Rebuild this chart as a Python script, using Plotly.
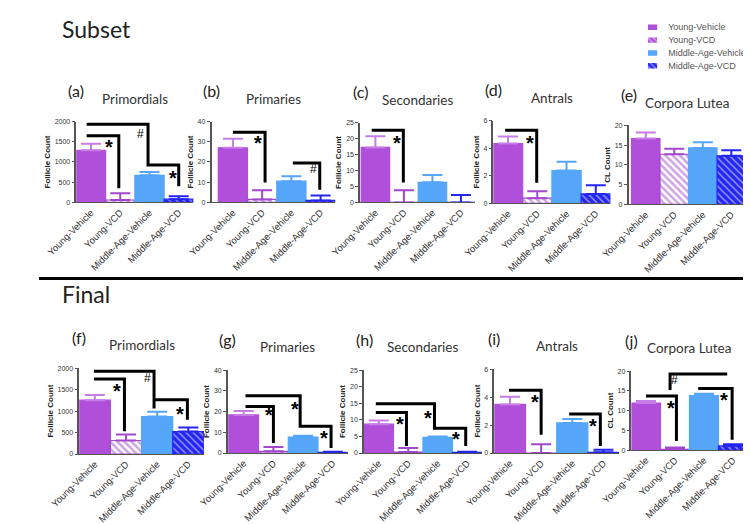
import plotly.graph_objects as go

W, H = 751, 524

categories = ["Young-Vehicle", "Young-VCD", "Middle-Age-Vehicle", "Middle-Age-VCD"]

# ---- Subset (mean, upper error) ----
subset_primordials = [1290, 60, 670, 80]
subset_primordials_err = [160, 165, 80, 70]
subset_primaries = [27.0, 1.5, 10.5, 1.0]
subset_primaries_err = [4.5, 4.5, 2.5, 2.4]
subset_secondaries = [17.2, 0.0, 6.3, 0.0]
subset_secondaries_err = [3.5, 3.8, 2.3, 2.3]
subset_antrals = [4.33, 0.38, 2.38, 0.69]
subset_antrals_err = [0.52, 0.5, 0.64, 0.62]
subset_cl = [16.7, 12.7, 14.3, 12.3]
subset_cl_err = [1.5, 1.4, 1.45, 1.4]

# ---- Final ----
final_primordials = [1255, 315, 872, 525]
final_primordials_err = [118, 138, 115, 95]
final_primaries = [18.4, 0.8, 7.7, 0.3]
final_primaries_err = [1.9, 2.1, 0.6, 0.3]
final_secondaries = [8.7, 0.3, 4.7, 0.2]
final_secondaries_err = [1.1, 1.2, 0.3, 0.2]
final_antrals = [3.48, 0.0, 2.15, 0.05]
final_antrals_err = [0.54, 0.63, 0.28, 0.18]
final_cl = [11.9, 0.2, 13.8, 1.08]
final_cl_err = [0.55, 0.46, 0.5, 0.42]

# ---- significance brackets (category index, value) and marks ----
br_a = [[(-0.15, 1650), (0.95, 1650), (0.95, 350)],
        [(-0.15, 1930), (1.95, 1930), (1.95, 925), (3.0, 925), (3.0, 400)]]
mk_a = [("*", 0.63, 1500), ("#", 1.7, 1700), ("*", 2.82, 725)]
br_b = [[(0.0, 34.7), (1.1, 34.7), (1.1, 9.8)],
        [(2.05, 19.5), (2.97, 19.5), (2.97, 6.3)]]
mk_b = [("*", 0.85, 31.7), ("#", 2.75, 16.6)]
br_c = [[(-0.13, 22.6), (0.98, 22.6), (0.98, 6.2)]]
mk_c = [("*", 0.74, 20.0)]
br_d = [[(-0.1, 5.3), (0.98, 5.3), (0.98, 1.5)]]
mk_d = [("*", 0.75, 4.7)]
br_e = []
mk_e = []
br_f = [[(-0.03, 1750), (0.95, 1750), (0.95, 530)],
        [(-0.03, 1930), (1.9, 1930), (1.9, 1060)],
        [(1.9, 1265), (2.97, 1265), (2.97, 800)]]
mk_f = [("*", 0.7, 1590), ("#", 1.68, 1770), ("*", 2.72, 1060)]
br_g = [[(0.06, 22.4), (1.0, 22.4), (1.0, 4.8)],
        [(0.06, 27.6), (1.9, 27.6), (1.9, 12.9), (2.94, 12.9), (2.94, 2.4)]]
mk_g = [("*", 0.84, 21.0), ("*", 1.71, 23.5), ("*", 2.71, 9.5)]
br_h = [[(-0.1, 12.2), (0.94, 12.2), (0.94, 2.1)],
        [(-0.1, 14.9), (1.89, 14.9), (1.89, 7.5), (2.95, 7.5), (2.95, 2.1)]]
mk_h = [("*", 0.72, 10.2), ("*", 1.66, 12.0), ("*", 2.62, 5.6)]
br_i = [[(-0.03, 4.5), (1.0, 4.5), (1.0, 1.3)],
        [(1.9, 2.8), (2.9, 2.8), (2.9, 0.5)]]
mk_i = [("*", 0.8, 4.0), ("*", 2.66, 2.3)]
br_j = [[(0.0, 13.7), (1.05, 13.7), (1.05, 2.3)],
        [(0.83, 15.2), (0.83, 19.3), (2.8, 19.3)],
        [(1.8, 15.6), (2.97, 15.6), (2.97, 2.6)]]
mk_j = [("*", 0.86, 12.0), ("#", 1.0, 17.75), ("*", 2.7, 14.0)]

panels = [
    ("(a)", "Primordials", subset_primordials, subset_primordials_err, 2000, 500, "Follicle Count", br_a, mk_a),
    ("(b)", "Primaries", subset_primaries, subset_primaries_err, 40, 10, "Follicle Count", br_b, mk_b),
    ("(c)", "Secondaries", subset_secondaries, subset_secondaries_err, 25, 5, "Follicle Count", br_c, mk_c),
    ("(d)", "Antrals", subset_antrals, subset_antrals_err, 6, 2, "Follicle Count", br_d, mk_d),
    ("(e)", "Corpora Lutea", subset_cl, subset_cl_err, 20, 5, "CL Count", br_e, mk_e),
    ("(f)", "Primordials", final_primordials, final_primordials_err, 2000, 500, "Follicle Count", br_f, mk_f),
    ("(g)", "Primaries", final_primaries, final_primaries_err, 40, 10, "Follicle Count", br_g, mk_g),
    ("(h)", "Secondaries", final_secondaries, final_secondaries_err, 25, 5, "Follicle Count", br_h, mk_h),
    ("(i)", "Antrals", final_antrals, final_antrals_err, 6, 2, "Follicle Count", br_i, mk_i),
    ("(j)", "Corpora Lutea", final_cl, final_cl_err, 20, 5, "CL Count", br_j, mk_j),
]

# pixel geometry: axis x, bars start, bars end, top px, zero px
geo = [
    (39, 39, 161, 111, 193),
    (180, 187, 309, 111, 193),
    (335, 336, 455, 112, 193),
    (474, 474, 596, 110, 194),
    (615, 618, 737, 115, 195),
    (42, 42, 172, 361, 448),
    (197, 198, 322, 363, 447),
    (339, 339, 462, 363, 447),
    (475, 475, 605, 362, 447),
    (618, 618, 739, 364, 444),
]

PURPLE = "#b04fd9"
PURPLE_D = "#a148cc"
PURPLE_ERR = "#c77de8"
LBLUE = "#55a6f8"
DBLUE = "#2525f2"

fill_colors = ["#b04fd9", "white", LBLUE, DBLUE]
line_colors = [PURPLE, PURPLE_D, LBLUE, DBLUE]
err_colors = [PURPLE_ERR, PURPLE_D, LBLUE, DBLUE]
pat_shapes = ["", "\\", "", "\\"]
pat_fg = [PURPLE, PURPLE_D, LBLUE, "white"]
pat_sol = [0.3, 0.5, 0.3, 0.3]

FONT = "Liberation Sans, Arial, sans-serif"
TFONT = "Lato, Open Sans, sans-serif"

fig = go.Figure()
layout = dict(
    width=W, height=H, margin=dict(l=0, r=0, t=0, b=0),
    paper_bgcolor="white", plot_bgcolor="white", showlegend=False,
    barmode="overlay", annotations=[], shapes=[],
)

for n, (panel, g) in enumerate(zip(panels, geo), start=1):
    letter, title, vals, errs, ymax, dtick, ytitle, brs, mks = panel
    ax, bs, be, ytop, yzero = g
    unit = (be - bs) / 4.0
    xr = [-0.5 - (bs - ax) / unit, 3.5]
    xs = "" if n == 1 else str(n)
    xref, yref = "x" + xs, "y" + xs
    for k in range(4):
        fig.add_trace(go.Bar(
            x=[k], y=[vals[k]], width=1.0, name=categories[k],
            xaxis=xref, yaxis=yref,
            marker=dict(color=fill_colors[k],
                        line=dict(color=line_colors[k], width=1.2),
                        pattern=dict(shape=pat_shapes[k], fgcolor=pat_fg[k],
                                     size=5, solidity=pat_sol[k])),
            error_y=dict(type="data", symmetric=False, array=[errs[k]], arrayminus=[0],
                         color=err_colors[k], thickness=2, width=10),
            hoverinfo="skip",
        ))
    layout["xaxis" + xs] = dict(
        domain=[ax / W, be / W], range=xr, anchor=yref,
        tickvals=[0, 1, 2, 3], ticktext=categories, tickangle=-45,
        tickfont=dict(family=FONT, size=9.5, color="#333"),
        showline=True, linecolor="#555", linewidth=1, ticks="",
        showgrid=False, zeroline=False,
    )
    layout["yaxis" + xs] = dict(
        domain=[1 - yzero / H, 1 - ytop / H], range=[0, ymax], dtick=dtick, anchor=xref,
        showline=True, linecolor="#555", linewidth=1.5, ticks="outside", ticklen=3,
        tickwidth=1, tickcolor="#555", tickfont=dict(family=FONT, size=7, color="#333"),
        showgrid=False, zeroline=False,
        title=dict(text="<b>" + ytitle + "</b>", font=dict(family=FONT, size=8, color="#222"),
                   standoff=3),
    )
    layout["annotations"].append(dict(
        text=letter, x=ax / W, y=1 - (ytop - 31) / H, xref="paper", yref="paper",
        showarrow=False, xanchor="center", yanchor="middle",
        font=dict(family=TFONT, size=16, color="#222")))
    layout["annotations"].append(dict(
        text=title, x=(ax + be) / 2 / W, y=1 - (ytop - 23) / H, xref="paper", yref="paper",
        showarrow=False, xanchor="center", yanchor="middle",
        font=dict(family=TFONT, size=13.5, color="#333")))
    for pts in brs:
        path = "M " + " L ".join("%g,%g" % p for p in pts)
        layout["shapes"].append(dict(type="path", path=path, xref=xref, yref=yref,
                                     line=dict(color="black", width=3), layer="above"))
    for txt, mx, my in mks:
        if txt == "*":
            layout["annotations"].append(dict(
                text="<b>*</b>", x=mx, y=my, xref=xref, yref=yref, showarrow=False,
                yshift=-5, font=dict(family=FONT, size=20, color="black")))
        else:
            layout["annotations"].append(dict(
                text=txt, x=mx, y=my, xref=xref, yref=yref, showarrow=False,
                font=dict(family=FONT, size=12, color="black")))

# Legend built from a small swatch bar chart
fig.add_trace(go.Bar(
    x=[1, 1, 1, 1], y=[0, 1, 2, 3], orientation="h", width=0.42,
    xaxis="x11", yaxis="y11", hoverinfo="skip",
    marker=dict(color=[PURPLE, PURPLE, LBLUE, DBLUE], line=dict(width=0),
                pattern=dict(shape=["", "\\", "", "\\"],
                             fgcolor=[PURPLE, "white", LBLUE, "white"], size=4, solidity=0.35)),
))
layout["xaxis11"] = dict(domain=[635 / W, 645 / W], range=[0, 1], visible=False, anchor="y11")
layout["yaxis11"] = dict(domain=[1 - 61 / H, 1 - 9 / H], range=[3.5, -0.5], anchor="x11",
                         side="right", tickvals=[0, 1, 2, 3], ticktext=categories,
                         ticks="outside", ticklen=8, tickcolor="rgba(0,0,0,0)",
                         tickfont=dict(family=FONT, size=9, color="#555"),
                         showline=False, showgrid=False, zeroline=False)

layout["annotations"].append(dict(text="Subset", x=22 / W, y=1 - 17 / H, xref="paper", yref="paper",
                                  showarrow=False, xanchor="left", yanchor="middle",
                                  font=dict(family=TFONT, size=23, color="#222")))
layout["annotations"].append(dict(text="Final", x=22 / W, y=1 - 286 / H, xref="paper", yref="paper",
                                  showarrow=False, xanchor="left", yanchor="middle",
                                  font=dict(family=TFONT, size=23, color="#222")))
layout["shapes"].append(dict(type="line", xref="paper", yref="paper", x0=0, x1=1,
                             y0=1 - 270 / H, y1=1 - 270 / H, line=dict(color="black", width=3)))

fig.update_layout(**layout)
fig.write_html("out.html")
